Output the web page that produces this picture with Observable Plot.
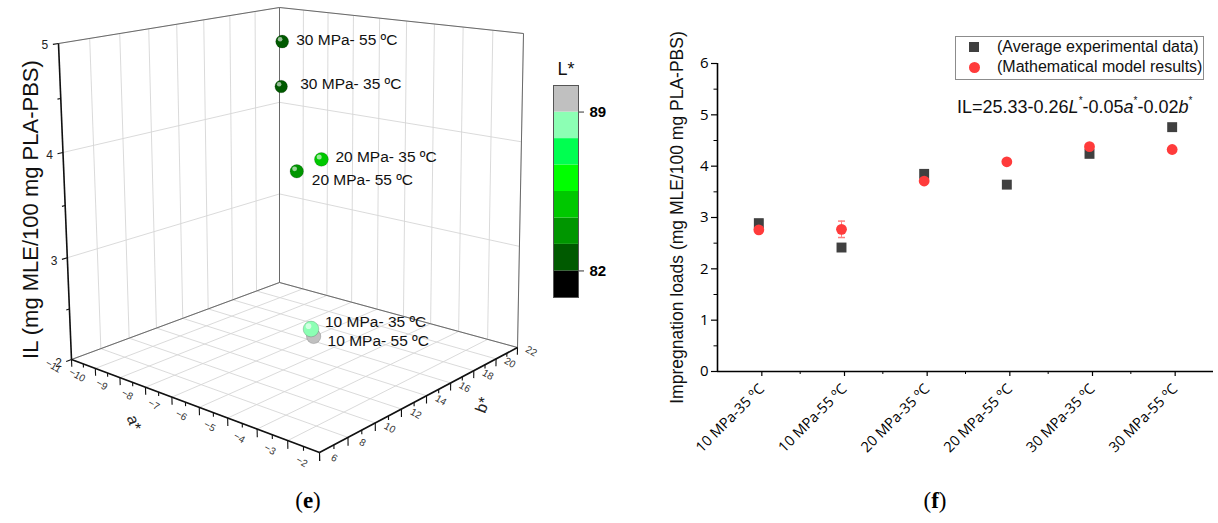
<!DOCTYPE html>
<html><head><meta charset="utf-8">
<script src="https://cdn.jsdelivr.net/npm/d3@7"></script>
<script src="https://cdn.jsdelivr.net/npm/@observablehq/plot@0.6"></script>
<style>
body{margin:0;background:#fff;}
#page{position:relative;width:1218px;height:523px;overflow:hidden;background:#fff;font-family:"Liberation Sans",Arial,sans-serif;}
.abs{position:absolute;}
.cap{position:absolute;width:80px;text-align:center;font-family:"Liberation Serif","Times New Roman",serif;font-size:23px;line-height:23px;color:#000;}
.eq{position:absolute;font-size:18px;line-height:18px;white-space:nowrap;color:#111;}
.eq sup{font-size:10px;line-height:0;position:relative;top:-2px;}
.lg{position:absolute;border:1px solid #8c8c8c;background:#fff;}
.lgt{position:absolute;font-size:16px;line-height:16px;white-space:nowrap;color:#111;}
</style></head><body><div id="page"></div>
<script>
// ---------------- data ----------------
const conditions = ["10 MPa-35 ºC", "10 MPa-55 ºC", "20 MPa-35 ºC", "20 MPa-55 ºC", "30 MPa-35 ºC", "30 MPa-55 ºC"];
const labels3d = ["10 MPa- 35 ºC", "10 MPa- 55 ºC", "20 MPa- 35 ºC", "20 MPa- 55 ºC", "30 MPa- 35 ºC", "30 MPa- 55 ºC"];
const ilExperimental = [2.89, 2.415, 3.85, 3.64, 4.24, 4.76];
const ilModel = [2.76, 2.77, 3.71, 4.085, 4.38, 4.325];
const ilModelError = [0, 0.16, 0, 0, 0, 0];
const aStar = [-2.85, -4.9, -6.2, -7.5, -10.2, -9.45];
const bStar = [7.4, 12.0, 15.5, 16.3, 20.55, 19.15];
const lStar = [88.3, 89.5, 84.9, 83.8, 82.6, 82.4];
const aTicks = [-11, -10, -9, -8, -7, -6, -5, -4, -3, -2];
const bTicks = [6, 8, 10, 12, 14, 16, 18, 20, 22];
const ilTicks3d = [2, 3, 4, 5];
const lLevels = [82, 83.17, 84.33, 85.5, 86.67, 87.83, 89];
const lPalette = ["#000000", "#005a00", "#009600", "#00c800", "#00ff00", "#00ff50", "#8cffb4", "#c0c0c0"];
const lBarDomain = [80.83, 90.17];
const lBarTicks = [82, 89];
const ilTicks = [0, 1, 2, 3, 4, 5, 6];

// ---------------- layout ----------------
const fontSans = '"Liberation Sans", Arial, sans-serif';
const fontTick = '"Open Sans", "Liberation Sans", sans-serif';
const boxA = [-11, -2], boxB = [6, 22], boxZ = [2, 5];
const U = a => (a - boxA[0]) / (boxA[1] - boxA[0]);
const V = b => (b - boxB[0]) / (boxB[1] - boxB[0]);
const T = z => (z - boxZ[0]) / (boxZ[1] - boxZ[0]);
// perspective view: screen anchors of the 3D box corners, with depth weights
const corners = [
  {u:0,v:0,t:0,x:71,y:359,w:1},
  {u:1,v:0,t:0,x:319,y:452,w:0.85},
  {u:1,v:1,t:0,x:517,y:347,w:1},
  {u:0,v:1,t:0,x:279,y:282,w:1.15},
  {u:0,v:0,t:1,x:58,y:43,w:0.95},
  {u:1,v:0,t:1,x:313,y:80,w:0.8075},
  {u:1,v:1,t:1,x:523,y:33,w:0.95},
  {u:0,v:1,t:1,x:279,y:7,w:1.0925}
];
function projUVT(u, v, t) {
  let sx = 0, sy = 0, sw = 0;
  for (const c of corners) {
    const k = (c.u ? u : 1 - u) * (c.v ? v : 1 - v) * (c.t ? t : 1 - t) * c.w;
    sx += k * c.x; sy += k * c.y; sw += k;
  }
  return [sx / sw, sy / sw, sw];
}
const proj = (a, b, z) => projUVT(U(a), V(b), T(z));
const seg = (p, q) => { const A = projUVT(...p), B = projUVT(...q); return {x1: A[0], y1: A[1], x2: B[0], y2: B[1]}; };
const halves = arr => arr.slice(0, -1).map((d, i) => (d + arr[i + 1]) / 2);

const gridSegs = [];
for (const a of aTicks) { gridSegs.push(seg([U(a),0,0],[U(a),1,0])); gridSegs.push(seg([U(a),1,0],[U(a),1,1])); }
for (const b of bTicks) { gridSegs.push(seg([0,V(b),0],[1,V(b),0])); gridSegs.push(seg([0,V(b),0],[0,V(b),1])); }
for (const z of ilTicks3d) { gridSegs.push(seg([0,0,T(z)],[0,1,T(z)])); gridSegs.push(seg([0,1,T(z)],[1,1,T(z)])); }
const edgeSegs = [seg([0,0,1],[0,1,1]), seg([0,1,1],[1,1,1]), seg([0,1,0],[0,1,1]), seg([1,1,0],[1,1,1]), seg([0,0,0],[0,1,0]), seg([0,1,0],[1,1,0])];
const axisSegs = [seg([0,0,0],[0,0,1]), seg([0,0,0],[1,0,0]), seg([1,0,0],[1,1,0])];
const tickSegs = [
  ...ilTicks3d.map(z => seg([0,0,T(z)],[0,-0.022,T(z)])),
  ...halves(ilTicks3d).map(z => seg([0,0,T(z)],[0,-0.013,T(z)])),
  ...aTicks.map(a => seg([U(a),0,0],[U(a),0,-0.024])),
  ...halves(aTicks).map(a => seg([U(a),0,0],[U(a),0,-0.012])),
  ...bTicks.map(b => seg([1,V(b),0],[1,V(b),-0.024])),
  ...halves(bTicks).map(b => seg([1,V(b),0],[1,V(b),-0.012]))
];
const lab = (p, text) => ({x: p[0], y: p[1], text});
const ilLabels = ilTicks3d.map(z => lab(projUVT(0, -0.04, T(z)), String(z)));
const aLabels = aTicks.map(a => lab(projUVT(U(a), -0.075, 0), String(a).replace("-", "\u2212")));
const bLabels = bTicks.map(b => lab(projUVT(1.05, V(b), 0), String(b)));
const axisTitles = [
  {...lab(projUVT(0.49, -0.2, 0), "a*"), rot: 70},
  {...lab(projUVT(1.16, 0.55, 0), "b*"), rot: -70}
];
const labelNudge = {
  "10 MPa- 35 ºC": [14, -7], "10 MPa- 55 ºC": [14, 5], "20 MPa- 35 ºC": [14, -2],
  "20 MPa- 55 ºC": [15, 9], "30 MPa- 35 ºC": [19, -2], "30 MPa- 55 ºC": [14, -2]
};
const spheres = labels3d.map((name, i) => {
  const p = proj(aStar[i], bStar[i], ilExperimental[i]);
  return {name, L: lStar[i], px: p[0], py: p[1], depth: p[2], r: 6.8 / p[2], ndx: labelNudge[name][0], ndy: labelNudge[name][1]};
}).sort((a, b) => b.depth - a.depth);

const L = {x1: "x1", y1: "y1", x2: "x2", y2: "y2"};
const sphereMarks = spheres.flatMap(s => [
  Plot.dot([s], {x: "px", y: "py", r: "r", fill: "L", stroke: "#000", strokeOpacity: 0.22, strokeWidth: 0.8, sort: null}),
  Plot.dot([s], {x: d => d.px - 0.32 * d.r, y: d => d.py - 0.36 * d.r, r: d => 0.36 * d.r, fill: "white", fillOpacity: 0.6, sort: null})
]);
const left3d = Plot.plot({
  width: 620, height: 480, margin: 0,
  x: {type: "identity", axis: null}, y: {type: "identity", axis: null}, r: {type: "identity"},
  color: {type: "threshold", domain: lLevels, range: lPalette},
  style: {fontFamily: fontSans, background: "transparent", overflow: "visible"},
  marks: [
    Plot.link(gridSegs, {...L, stroke: "#d6d6d6", strokeWidth: 0.9}),
    Plot.link(edgeSegs, {...L, stroke: "#6a6a6a", strokeWidth: 1}),
    Plot.link(axisSegs, {...L, stroke: "#111", strokeWidth: 1.6}),
    Plot.link(tickSegs, {...L, stroke: "#111", strokeWidth: 1.1}),
    Plot.text(ilLabels, {x: "x", y: "y", text: "text", textAnchor: "end", fontSize: 12, fill: "#222"}),
    Plot.text(aLabels, {x: "x", y: "y", text: "text", rotate: 30, fontSize: 10, fill: "#333"}),
    Plot.text(bLabels, {x: "x", y: "y", text: "text", rotate: 30, fontSize: 10, fill: "#333"}),
    Plot.text(axisTitles, {x: "x", y: "y", text: "text", rotate: "rot", fontSize: 16, fill: "#222"}),
    Plot.text(["IL (mg MLE/100 mg PLA-PBS)"], {x: 30, y: 209, rotate: -90, fontSize: 22, fill: "#111"}),
    ...sphereMarks,
    Plot.text(spheres, {x: d => d.px + d.ndx, y: d => d.py + d.ndy, text: "name", textAnchor: "start", fontSize: 15.5, fill: "#111"})
  ]
});

const bands = lPalette.map((c, i) => ({lo: i === 0 ? lBarDomain[0] : lLevels[i - 1], hi: i === lPalette.length - 1 ? lBarDomain[1] : lLevels[i]}));
const colorbar = Plot.plot({
  width: 80, height: 260, marginLeft: 23, marginRight: 32, marginTop: 35, marginBottom: 13,
  x: {domain: [0, 1], axis: null}, y: {domain: lBarDomain, axis: null},
  color: {type: "threshold", domain: lLevels, range: lPalette},
  style: {fontFamily: fontSans, background: "transparent", overflow: "visible", fontSize: "15px"},
  marks: [
    Plot.rect(bands, {x1: 0, x2: 1, y1: "lo", y2: "hi", fill: d => (d.lo + d.hi) / 2}),
    Plot.frame({stroke: "#555"}),
    Plot.axisY({anchor: "right", ticks: lBarTicks, tickSize: 5, tickPadding: 6, fontSize: 15, fontWeight: "bold", label: null, stroke: "#333"}),
    Plot.text(["L*"], {frameAnchor: "top", dy: -23, fontSize: 18, fill: "#111"})
  ]
});

const rows = conditions.map((c, i) => ({i, exp: ilExperimental[i], model: ilModel[i], err: ilModelError[i]}));
const errRows = rows.filter(d => d.err > 0);
const capSymbol = {draw(ctx, size) { const w = Math.sqrt(size / Math.PI); ctx.moveTo(-w, 0); ctx.lineTo(w, 0); }};
const catIndex = conditions.map((c, i) => i);
const right = Plot.plot({
  width: 598, height: 480, marginLeft: 97, marginRight: 5, marginTop: 63, marginBottom: 109,
  x: {domain: [-0.5, 5.5], axis: null},
  y: {domain: [0, 6], axis: null},
  style: {fontFamily: fontTick, fontSize: "14px", background: "transparent", color: "#000", overflow: "visible"},
  marks: [
    Plot.axisY({ticks: ilTicks, tickFormat: d => String(d), tickSize: 6, tickPadding: 3, fontSize: 15, label: null, strokeWidth: 1.2}),
    Plot.axisY({ticks: halves(ilTicks), tickSize: 3.5, tickFormat: () => "", label: null}),
    Plot.axisX({ticks: catIndex, tickFormat: i => conditions[i], tickRotate: -45, tickSize: 5, tickPadding: 10, dx: 3, fontSize: 14.5, label: null, strokeWidth: 1.2}),
    Plot.axisX({ticks: halves(catIndex), tickSize: 3, tickFormat: () => "", label: null}),
    Plot.ruleY([0], {strokeWidth: 1.6}),
    Plot.ruleX([-0.5], {y1: 0, y2: 6, strokeWidth: 1.6}),
    Plot.text(["Impregnation loads (mg MLE/100 mg PLA-PBS)"], {x: -0.5, y: 3, dx: -40, rotate: -90, fontSize: 17.5, fontFamily: fontSans, fill: "#111"}),
    Plot.dot(rows, {x: "i", y: "exp", symbol: "square", r: 5.6, fill: "#404040"}),
    Plot.ruleX(errRows, {x: "i", y1: d => d.model - d.err, y2: d => d.model + d.err, stroke: "#ff8080"}),
    Plot.dot(errRows, {x: "i", y: d => d.model + d.err, symbol: capSymbol, r: 3.5, stroke: "#ff8080", fill: "none"}),
    Plot.dot(errRows, {x: "i", y: d => d.model - d.err, symbol: capSymbol, r: 3.5, stroke: "#ff8080", fill: "none"}),
    Plot.dot(rows, {x: "i", y: "model", r: 5.4, fill: "#ff3b3b"})
  ]
});

// ---------------- assemble ----------------
const page = document.getElementById("page");
function place(el, left, top) { const d = document.createElement("div"); d.className = "abs"; d.style.left = left + "px"; d.style.top = top + "px"; d.appendChild(el); page.appendChild(d); return d; }
place(left3d, 0, 0);
place(colorbar, 530, 50);
place(right, 620, 0);

const eq = document.createElement("div"); eq.className = "eq"; eq.style.left = "957px"; eq.style.top = "98px";
eq.innerHTML = "IL=25.33-0.26<i>L</i><sup>*</sup>-0.05<i>a</i><sup>*</sup>-0.02<i>b</i><sup>*</sup>";
page.appendChild(eq);

const lg = document.createElement("div"); lg.className = "lg";
Object.assign(lg.style, {left: "955px", top: "36px", width: "247px", height: "42px"});
lg.innerHTML = '<div style="position:absolute;left:13px;top:5px;width:10px;height:10px;background:#404040"></div>' +
  '<div style="position:absolute;left:12.5px;top:25px;width:11px;height:11px;border-radius:50%;background:#ff3b3b"></div>' +
  '<div class="lgt" style="left:41px;top:2px">(Average experimental data)</div>' +
  '<div class="lgt" style="left:41px;top:22px">(Mathematical model results)</div>';
page.appendChild(lg);

const ce = document.createElement("div"); ce.className = "cap"; ce.style.left = (308 - 40) + "px"; ce.style.top = "489px"; ce.innerHTML = "(<b>e</b>)"; page.appendChild(ce);
const cf = document.createElement("div"); cf.className = "cap"; cf.style.left = (935 - 40) + "px"; cf.style.top = "489px"; cf.innerHTML = "(<b>f</b>)"; page.appendChild(cf);
</script>
</body></html>
